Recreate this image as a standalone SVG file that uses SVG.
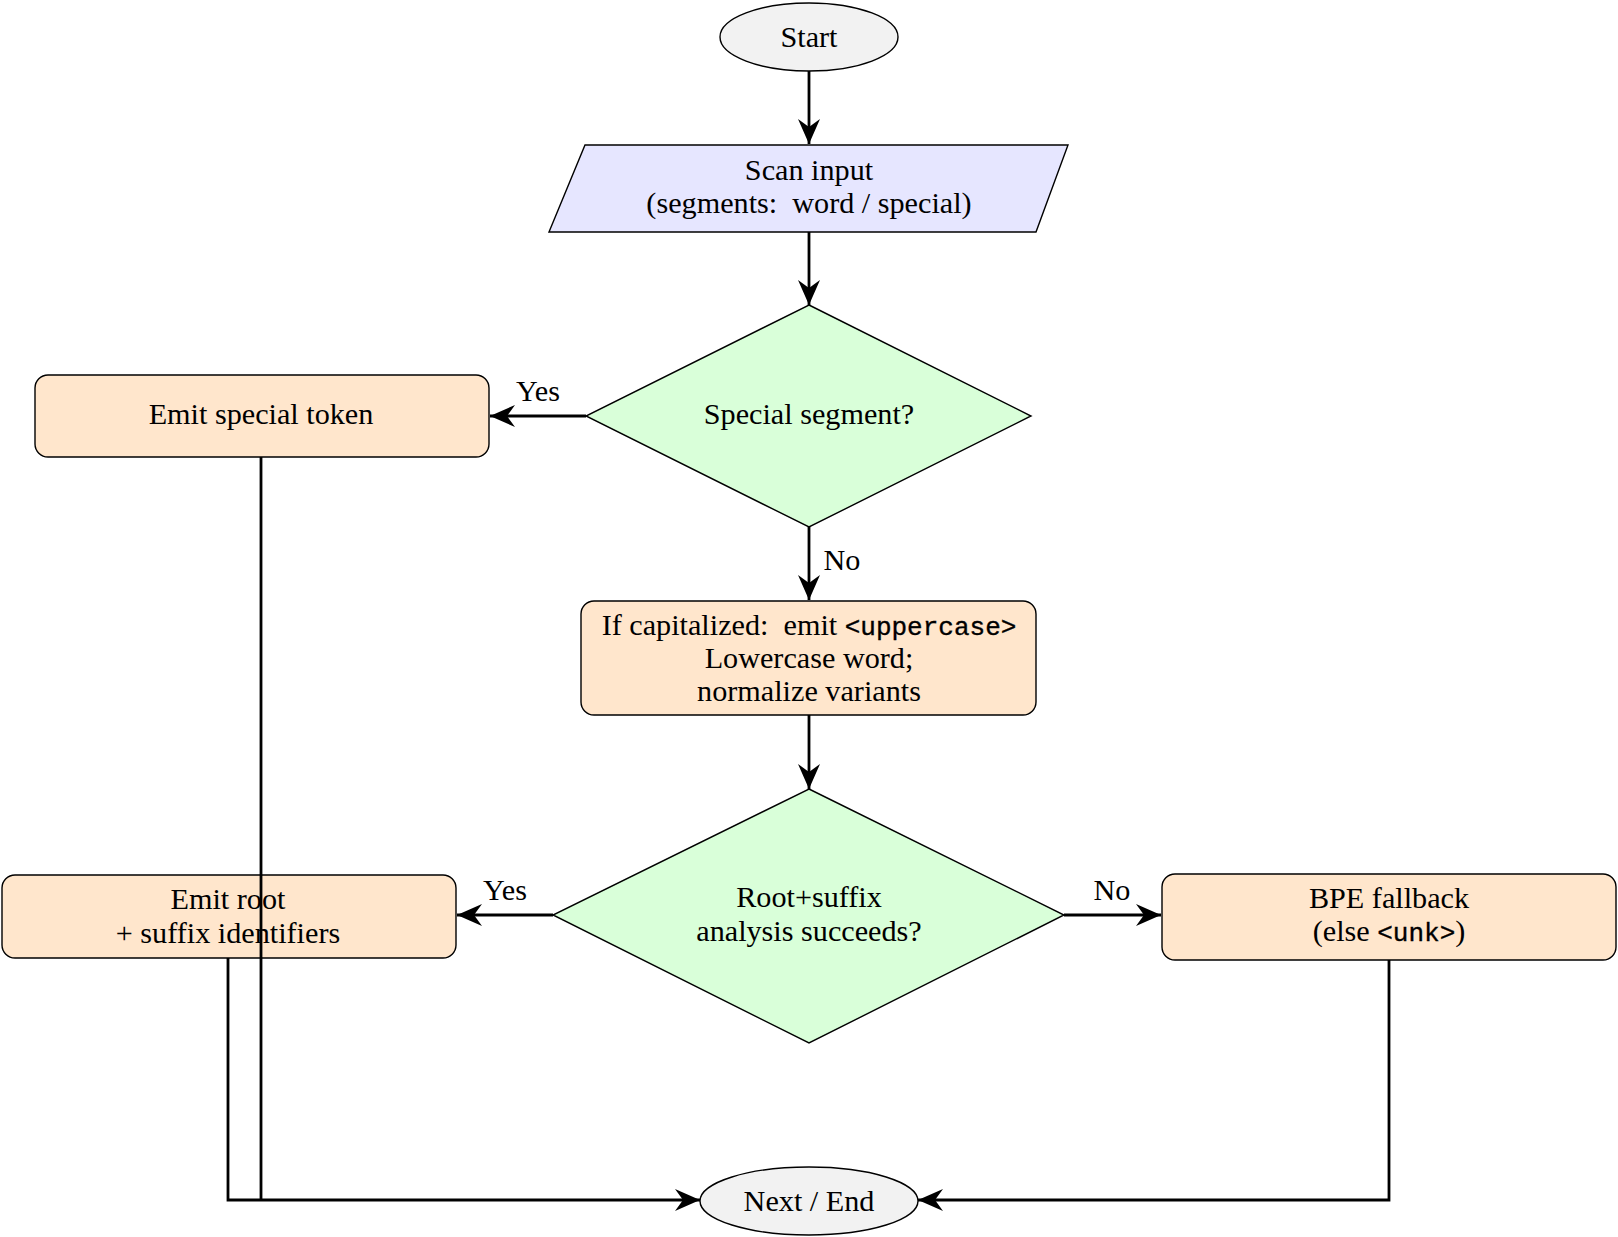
<svg xmlns="http://www.w3.org/2000/svg" width="1618" height="1237" viewBox="0 0 1618 1237">
<style>
.t{font-family:"Liberation Serif","Times New Roman",serif;font-size:30.2px;fill:#000;text-anchor:middle}
.m{font-family:"Liberation Mono","Courier New",monospace;font-size:26px;font-weight:normal;stroke:#000;stroke-width:0.35}
.box{fill:#FFE6CC;stroke:#000;stroke-width:1.4}
.dec{fill:#D9FFD9;stroke:#000;stroke-width:1.4}
.term{fill:#F2F2F2;stroke:#000;stroke-width:1.4}
.io{fill:#E6E6FF;stroke:#000;stroke-width:1.4}
.c{fill:none;stroke:#000;stroke-width:2.8}
.ca{fill:none;stroke:#000;stroke-width:2.8;marker-end:url(#ah)}
</style>
<defs>
<marker id="ah" markerUnits="userSpaceOnUse" viewBox="-26 -12 28 24" refX="0" refY="0" markerWidth="28" markerHeight="24" orient="auto">
<path d="M0,0 L-25,-11 L-17,0 L-25,11 Z" fill="#000"/>
</marker>
</defs>
<rect width="1618" height="1237" fill="#fff"/>
<g id="start">
<ellipse class="term" cx="809" cy="37" rx="89" ry="34"/>
<text class="t" x="809" y="47">Start</text>
</g>
<g id="scan">
<polygon class="io" points="585,145 1068,145 1036,232 549,232"/>
<text class="t" x="809" y="180">Scan input</text>
<text class="t" x="809" y="213">(segments:&#160; word / special)</text>
</g>
<g id="special">
<polygon class="dec" points="809,305 1031,416 809,527 586,416"/>
<text class="t" x="809" y="424">Special segment?</text>
</g>
<g id="emitspecial">
<rect class="box" x="35" y="375" width="454" height="82" rx="13"/>
<text class="t" x="261" y="424">Emit special token</text>
</g>
<g id="normalize">
<rect class="box" x="581" y="601" width="455" height="114" rx="13"/>
<text class="t" x="809" y="635">If capitalized:&#160; emit <tspan class="m">&lt;uppercase&gt;</tspan></text>
<text class="t" x="809" y="668">Lowercase word;</text>
<text class="t" x="809" y="701">normalize variants</text>
</g>
<g id="analysis">
<polygon class="dec" points="809,789 1064,915 809,1043 553,915"/>
<text class="t" x="809" y="907">Root+suffix</text>
<text class="t" x="809" y="941">analysis succeeds?</text>
</g>
<g id="emitroot">
<rect class="box" x="2" y="875" width="454" height="83" rx="13"/>
<text class="t" x="228" y="909">Emit root</text>
<text class="t" x="228" y="943">+ suffix identifiers</text>
</g>
<g id="bpe">
<rect class="box" x="1162" y="874" width="454" height="86" rx="13"/>
<text class="t" x="1389" y="908">BPE fallback</text>
<text class="t" x="1389" y="941">(else <tspan class="m">&lt;unk&gt;</tspan>)</text>
</g>
<g id="end">
<ellipse class="term" cx="809" cy="1201" rx="109" ry="34"/>
<text class="t" x="809" y="1211">Next / End</text>
</g>
<g id="connectors">
<line class="ca" x1="809" y1="71" x2="809" y2="144"/>
<line class="ca" x1="809" y1="232" x2="809" y2="305"/>
<line class="ca" x1="586" y1="416" x2="490" y2="416"/>
<line class="ca" x1="809" y1="527" x2="809" y2="600"/>
<line class="ca" x1="809" y1="715" x2="809" y2="789"/>
<line class="ca" x1="553" y1="915" x2="457" y2="915"/>
<line class="ca" x1="1064" y1="915" x2="1161" y2="915"/>
<polyline class="c" points="261,457 261,1200"/>
<polyline class="ca" points="228,958 228,1200 700,1200"/>
<polyline class="ca" points="1389,960 1389,1200 918,1200"/>
<text class="t" x="538" y="401">Yes</text>
<text class="t" x="842" y="570">No</text>
<text class="t" x="505" y="900">Yes</text>
<text class="t" x="1112" y="900">No</text>
</g>
</svg>
